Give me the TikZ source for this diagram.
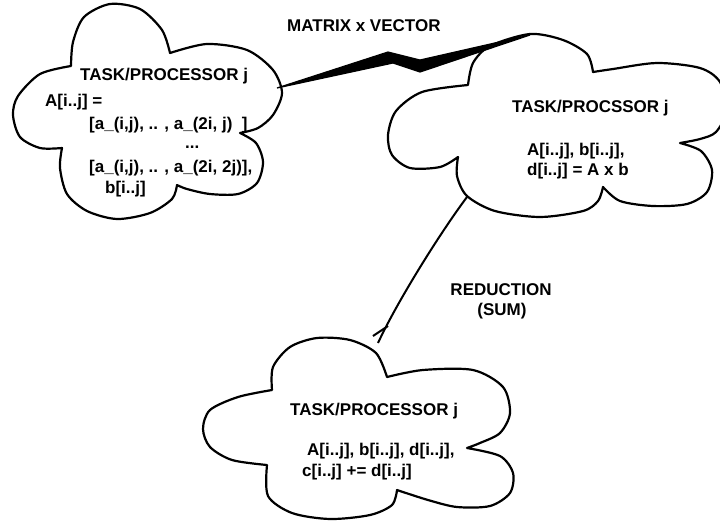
\documentclass[tikz,border=0pt]{standalone}
\usepackage{fontspec}
\setmainfont{Liberation Sans}
\newcommand{\lblfont}{\fontsize{17}{20}\selectfont\bfseries}
\tikzset{
  cloudline/.style={draw=black, line width=2.2pt, fill=white, line join=round},
  bolt/.style={fill=black, draw=black, line width=1.2pt, line join=miter},
  link/.style={draw=black, line width=2pt},
  lbl/.style={inner sep=0pt, anchor=base west, font=\lblfont},
  clbl/.style={inner sep=0pt, anchor=base, font=\lblfont},
}
\begin{document}
\begin{tikzpicture}[x=1pt,y=-1pt]
\path[use as bounding box] (0,0) rectangle (720,520);
\fill[white] (0,0) rectangle (720,520);
\clip (0,0) rectangle (720,520);

% ---- left cloud: matrix block held by the task
\draw[cloudline]
  plot[smooth] coordinates {(71,66) (73,42) (84,17) (110,4) (140,9) (162,30) (170,53)}
  -- plot[smooth] coordinates {(170,53) (207,44) (247,50) (273,70) (282,93) (273,115) (258,128) (240,133)}
  -- plot[smooth] coordinates {(240,133) (256,143) (263,162) (257,183) (238,194) (210,194) (187,189) (177,185)}
  -- plot[smooth] coordinates {(177,185) (172,199) (150,213) (117,219) (87,211) (67,194) (60,168) (62,148)}
  -- plot[smooth] coordinates {(62,148) (40,148) (20,137) (13,115) (18,96) (40,74) (71,66)}
  -- cycle;

% ---- right cloud: local product
\draw[cloudline]
  plot[smooth] coordinates {(468,85) (473,63) (490,46) (530,34) (563,40) (587,54) (593,72)}
  -- plot[smooth] coordinates {(593,72) (613,69) (657,63) (700,68) (720,82) (727,110) (716,132) (700,139) (680,143)}
  -- plot[smooth] coordinates {(680,143) (701,151) (712,170) (707,192) (687,204) (653,206) (620,201) (603,187)}
  -- plot[smooth] coordinates {(603,187) (598,201) (583,211) (540,217) (495,211) (467,196) (457,176) (458,157)}
  -- plot[smooth] coordinates {(458,157) (440,167) (410,168) (392,155) (388,135) (396,111) (422,92) (468,85)}
  -- cycle;

% ---- bottom cloud: reduction result
\draw[cloudline]
  plot[smooth] coordinates {(272,390) (273,367) (290,347) (317,338) (350,340) (376,353) (387,377)}
  -- plot[smooth] coordinates {(387,377) (423,370) (473,370) (503,387) (510,413) (500,433) (480,443) (467,448)}
  -- plot[smooth] coordinates {(467,448) (500,456) (513,473) (510,493) (490,506) (457,507) (428,500) (397,490)}
  -- plot[smooth] coordinates {(397,490) (392,505) (370,515) (330,519) (292,513) (268,496) (267,465)}
  -- plot[smooth] coordinates {(267,465) (232,460) (210,447) (203,429) (210,410) (238,397) (272,390)}
  -- cycle;

% ---- lightning link between the first two tasks
\coordinate (boltA) at (277,88);
\coordinate (boltB) at (530,35);
\filldraw[bolt] (boltA) -- (388,52) -- (420,60) -- (boltB) -- (420,72) -- (393,63) -- cycle;
\node[lbl] (mxv) at (287,31) {MATRIX x VECTOR};

% ---- reduction link
\coordinate (redA) at (467,197);
\coordinate (redB) at (378,343);
\coordinate (tickA) at (373,336);
\coordinate (tickB) at (388,326);
\draw[link] (redA) .. controls (440,233) and (397,302) .. (redB);
\draw[link] (tickA) -- (tickB);
\node[clbl] (red1) at (501,295) {REDUCTION};
\node[clbl] (red2) at (502,315) {(SUM)};

% ---- texts of the left cloud
\node[lbl] (t1a) at (80,80) {TASK/PROCESSOR j};
\node[lbl] (t1b) at (45,106) {A[i..j] =};
\node[lbl] (t1c) at (89,129) {[a\_(i,j), .. , a\_(2i, j)\ \ ]};
\node[lbl] (t1d) at (185,148) {...};
\node[lbl] (t1e) at (89,172) {[a\_(i,j), .. , a\_(2i, 2j)],};
\node[lbl] (t1f) at (105,193) {b[i..j]};

% ---- texts of the right cloud
\node[lbl] (t2a) at (512,112) {TASK/PROCSSOR j};
\node[lbl] (t2b) at (527,155) {A[i..j], b[i..j],};
\node[lbl] (t2c) at (527,175) {d[i..j] = A x b};

% ---- texts of the bottom cloud
\node[lbl] (t3a) at (290,415) {TASK/PROCESSOR j};
\node[lbl] (t3b) at (307,455) {A[i..j], b[i..j], d[i..j],};
\node[lbl] (t3c) at (302,476) {c[i..j] += d[i..j]};
\end{tikzpicture}
\end{document}
